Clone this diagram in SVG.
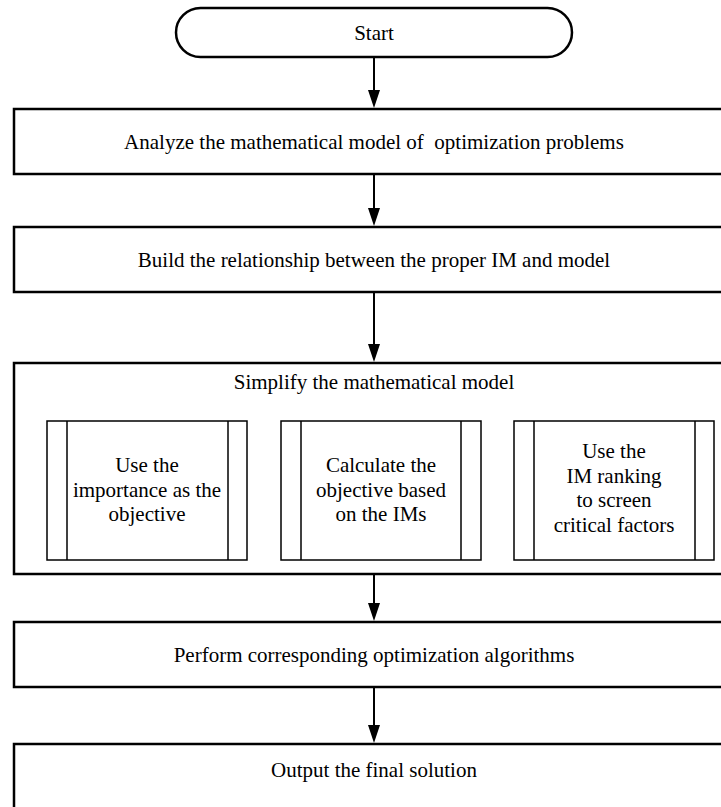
<svg xmlns="http://www.w3.org/2000/svg" width="721" height="807" viewBox="0 0 721 807">
<style>
.box{fill:#fff;stroke:#000;stroke-width:2.5}
.sub{fill:#fff;stroke:#000;stroke-width:1.5}
text{font-family:'Liberation Serif','Times New Roman',Times,'DejaVu Serif',serif;font-size:21px;fill:#000;text-anchor:middle}
</style>
<rect width="721" height="807" fill="#fff"/>
<g id="start">
<rect class="box" x="176" y="8" width="396" height="49" rx="24.5" ry="24.5" stroke-width="2"/>
<text x="374" y="40" font-family="Liberation Serif, serif">Start</text>
</g>
<g id="analyze">
<rect class="box" x="14" y="109" width="720" height="65"/>
<text x="374" y="149" xml:space="preserve">Analyze the mathematical model of  optimization problems</text>
</g>
<g id="build">
<rect class="box" x="14" y="227" width="720" height="65"/>
<text x="374" y="267">Build the relationship between the proper IM and model</text>
</g>
<g id="simplify">
<rect class="box" x="14" y="363" width="720" height="211"/>
<text x="374" y="389">Simplify the mathematical model</text>
</g>
<g id="sub1">
<rect class="sub" x="47" y="421" width="200" height="139"/>
<line class="sub" x1="67" y1="421" x2="67" y2="560"/>
<line class="sub" x1="228" y1="421" x2="228" y2="560"/>
<text x="147" y="472">Use the</text>
<text x="147" y="497">importance as the</text>
<text x="147" y="521">objective</text>
</g>
<g id="sub2">
<rect class="sub" x="281" y="421" width="200" height="139"/>
<line class="sub" x1="301" y1="421" x2="301" y2="560"/>
<line class="sub" x1="461" y1="421" x2="461" y2="560"/>
<text x="381" y="472">Calculate the</text>
<text x="381" y="497">objective based</text>
<text x="381" y="521">on the IMs</text>
</g>
<g id="sub3">
<rect class="sub" x="514" y="421" width="200" height="139"/>
<line class="sub" x1="534" y1="421" x2="534" y2="560"/>
<line class="sub" x1="695" y1="421" x2="695" y2="560"/>
<text x="614" y="458">Use the</text>
<text x="614" y="483">IM ranking</text>
<text x="614" y="507">to screen</text>
<text x="614" y="532">critical factors</text>
</g>
<g id="perform">
<rect class="box" x="14" y="622" width="720" height="65"/>
<text x="374" y="662">Perform corresponding optimization algorithms</text>
</g>
<g id="output">
<rect class="box" x="14" y="744" width="720" height="80"/>
<text x="374" y="777">Output the final solution</text>
</g>
<g id="connectors" fill="#000">
<line x1="374" y1="57" x2="374" y2="92" stroke="#000" stroke-width="2"/>
<path d="M368,90 L380,90 L374,108 Z"/>
<line x1="374" y1="174" x2="374" y2="210" stroke="#000" stroke-width="2"/>
<path d="M368,208 L380,208 L374,226 Z"/>
<line x1="374" y1="292" x2="374" y2="346" stroke="#000" stroke-width="2"/>
<path d="M368,344 L380,344 L374,362 Z"/>
<line x1="374" y1="574" x2="374" y2="605" stroke="#000" stroke-width="2"/>
<path d="M368,603 L380,603 L374,621 Z"/>
<line x1="374" y1="687" x2="374" y2="727" stroke="#000" stroke-width="2"/>
<path d="M368,725 L380,725 L374,743 Z"/>
</g>
</svg>
